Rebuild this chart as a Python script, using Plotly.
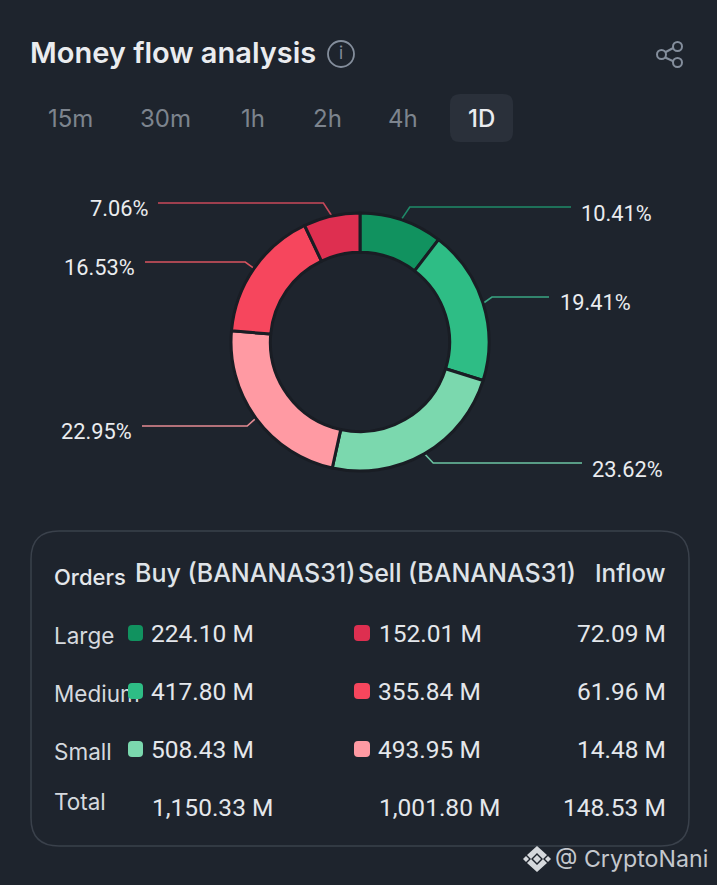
import math
import plotly.graph_objects as go

# slices, clockwise from 12 o'clock
slice_values = [224.10, 417.80, 508.43, 493.95, 355.84, 152.01]
slice_labels = ["10.41%", "19.41%", "23.62%", "22.95%", "16.53%", "7.06%"]
slice_colors = ["#11925f", "#2ebd85", "#7bd8ae", "#ff9aa3", "#f6465d", "#de2f50"]
leader_colors = ["#1f8a68", "#3aa583", "#6cc3a2", "#e58b93", "#d9535f", "#c9485a"]

orders = ["Large", "Medium", "Small", "Total"]
buy_text = ["224.10 M", "417.80 M", "508.43 M", "1,150.33 M"]
sell_text = ["152.01 M", "355.84 M", "493.95 M", "1,001.80 M"]
inflow_text = ["72.09 M", "61.96 M", "14.48 M", "148.53 M"]
intervals = ["15m", "30m", "1h", "2h", "4h", "1D"]

W, H = 717, 885
BG = "#1e242d"
FONT = "Inter"
NUM_FONT = "Roboto"  # the app's numerals are tabular, Inter's are not
CX, CY, R = 360, 342, 129

# leader line layout: elbow y, far end x, label x, label anchor
leader_y = [207, 297, 463, 426, 262, 203]
leader_end = [571, 549, 582, 142, 145, 158]
label_x = [579, 558, 590, 134, 137, 150]
label_y = [213, 302, 469, 431, 267, 208]
# interval tab centres
tab_x = [70, 165, 253, 327, 403, 481]
row_y = [633, 691, 749, 807]
order_y = [638, 696, 754, 804]
buy_x = [149, 149, 149, 150]
sell_x = [377, 376, 376, 377]


def rounded(x0, y0, x1, y1, r):
    return (f"M{x0+r},{y0} L{x1-r},{y0} Q{x1},{y0} {x1},{y0+r} L{x1},{y1-r} Q{x1},{y1} {x1-r},{y1} "
            f"L{x0+r},{y1} Q{x0},{y1} {x0},{y1-r} L{x0},{y0+r} Q{x0},{y0} {x0+r},{y0} Z")


fig = go.Figure()

# donut
fig.add_trace(go.Pie(
    values=slice_values,
    sort=False,
    direction="clockwise",
    rotation=0,
    hole=0.695,
    marker=dict(colors=slice_colors, line=dict(color="#191d24", width=3)),
    textinfo="none",
    hoverinfo="skip",
    showlegend=False,
    domain=dict(x=[(CX - R) / W, (CX + R) / W], y=[1 - (CY + R) / H, 1 - (CY - R) / H]),
))

# leader lines start at each slice's mid angle
total = sum(slice_values)
running = 0
for i, v in enumerate(slice_values):
    angle = 2 * math.pi * (running + v / 2) / total
    running += v
    sx = CX + (R + 1) * math.sin(angle)
    sy = CY - (R + 1) * math.cos(angle)
    side = 1 if leader_end[i] > CX else -1
    ex = sx + side * 8
    fig.add_trace(go.Scatter(
        x=[sx, ex, leader_end[i]], y=[sy, leader_y[i], leader_y[i]],
        mode="lines", line=dict(color=leader_colors[i], width=1.6),
        xaxis="x", yaxis="y", hoverinfo="skip", showlegend=False,
    ))
    fig.add_annotation(x=label_x[i], y=label_y[i], text=slice_labels[i], showarrow=False,
                       xanchor="left" if side > 0 else "right", yanchor="middle",
                       font=dict(family=NUM_FONT, size=21.8, color="#eaecef"))

# row names go in a trace so the swatches cover "Medium" as in the app
fig.add_trace(go.Scatter(
    x=[54] * 4, y=order_y, text=orders, mode="text", textposition="middle right",
    textfont=dict(family=FONT, size=22.5, color="#d5d9de"), hoverinfo="skip", showlegend=False,
))


def label(x, y, text, size=24.5, color="#e4e7eb", anchor="left", weight=400, family=FONT):
    fig.add_annotation(x=x, y=y, text=text, showarrow=False, xanchor=anchor, yanchor="middle",
                       font=dict(family=family, size=size, color=color, weight=weight))


label(28, 52, "Money flow analysis", size=29, color="#eaecef", weight=600)
for x, t in zip(tab_x, intervals):
    active = t == "1D"
    label(x, 118, t, size=24, color="#eaecef" if active else "#7d848e", anchor="center",
          weight=500 if active else 400)

label(52, 577, "Orders", size=22, color="#e4e7eb", weight=500)
label(133, 573, "Buy (BANANAS31)", size=25, color="#dfe3e8", weight=500)
label(356, 573, "Sell (BANANAS31)", size=25, color="#dfe3e8", weight=500)
label(668, 573, "Inflow", size=24.2, color="#dfe3e8", anchor="right", weight=500)

for i in range(4):
    label(buy_x[i], row_y[i], buy_text[i], family=NUM_FONT)
    label(sell_x[i], row_y[i], sell_text[i], family=NUM_FONT)
    label(668, row_y[i], inflow_text[i], anchor="right", family=NUM_FONT)

label(553, 859, "@ CryptoNani", size=23.2, color="#c4c8cd")
label(341, 53, "i", size=17, color="#848e9c", anchor="center")

shapes = [
    dict(type="path", path=rounded(128, 625, 143, 641, 4), fillcolor=slice_colors[0], line_width=0),
    dict(type="path", path=rounded(128, 683, 143, 699, 4), fillcolor=slice_colors[1], line_width=0),
    dict(type="path", path=rounded(128, 741, 143, 757, 4), fillcolor=slice_colors[2], line_width=0),
    dict(type="path", path=rounded(354, 625, 370, 641, 4), fillcolor=slice_colors[5], line_width=0),
    dict(type="path", path=rounded(354, 683, 370, 699, 4), fillcolor=slice_colors[4], line_width=0),
    dict(type="path", path=rounded(354, 741, 370, 757, 4), fillcolor=slice_colors[3], line_width=0),
    # card and active tab
    dict(type="path", path=rounded(31, 531, 689, 846, 28), line=dict(color="#3a414b", width=1.5), layer="below"),
    dict(type="path", path=rounded(450, 94, 513, 142, 10), fillcolor="#2a303a", line_width=0, layer="below"),
    # info icon
    dict(type="circle", x0=328, y0=41, x1=354, y1=67, line=dict(color="#848e9c", width=1.8)),
    # share icon
    dict(type="path", path="M662,54 L677,46 M662,56 L677,63", line=dict(color="#848e9c", width=2)),
    dict(type="circle", x0=657, y0=50, x1=666, y1=59, fillcolor=BG, line=dict(color="#848e9c", width=2)),
    dict(type="circle", x0=673, y0=42, x1=682, y1=51, fillcolor=BG, line=dict(color="#848e9c", width=2)),
    dict(type="circle", x0=673, y0=58, x1=682, y1=67, fillcolor=BG, line=dict(color="#848e9c", width=2)),
    # watermark logo
    dict(type="path", path="M537,846 L547,855 L543,859 L537,853 L531,859 L527,855 Z", fillcolor="#d5d8dc", line_width=0),
    dict(type="path", path="M537,872 L547,863 L543,859 L537,865 L531,859 L527,863 Z", fillcolor="#d5d8dc", line_width=0),
    dict(type="path", path="M537,855 L541,859 L537,863 L533,859 Z", fillcolor="#d5d8dc", line_width=0),
    dict(type="path", path="M526,856 L529,859 L526,862 L523,859 Z", fillcolor="#d5d8dc", line_width=0),
    dict(type="path", path="M548,856 L551,859 L548,862 L545,859 Z", fillcolor="#d5d8dc", line_width=0),
]
for s in shapes:
    s.setdefault("xref", "x")
    s.setdefault("yref", "y")
    fig.add_shape(**s)

fig.update_layout(
    width=W, height=H,
    margin=dict(l=0, r=0, t=0, b=0),
    paper_bgcolor=BG, plot_bgcolor=BG,
    xaxis=dict(range=[0, W], visible=False, domain=[0, 1], fixedrange=True),
    yaxis=dict(range=[H, 0], visible=False, domain=[0, 1], fixedrange=True),
    showlegend=False,
)

fig.write_html("out.html", config=dict(displayModeBar=False),
               post_script="document.body.style.margin='0';document.body.style.background='" + BG + "';")
